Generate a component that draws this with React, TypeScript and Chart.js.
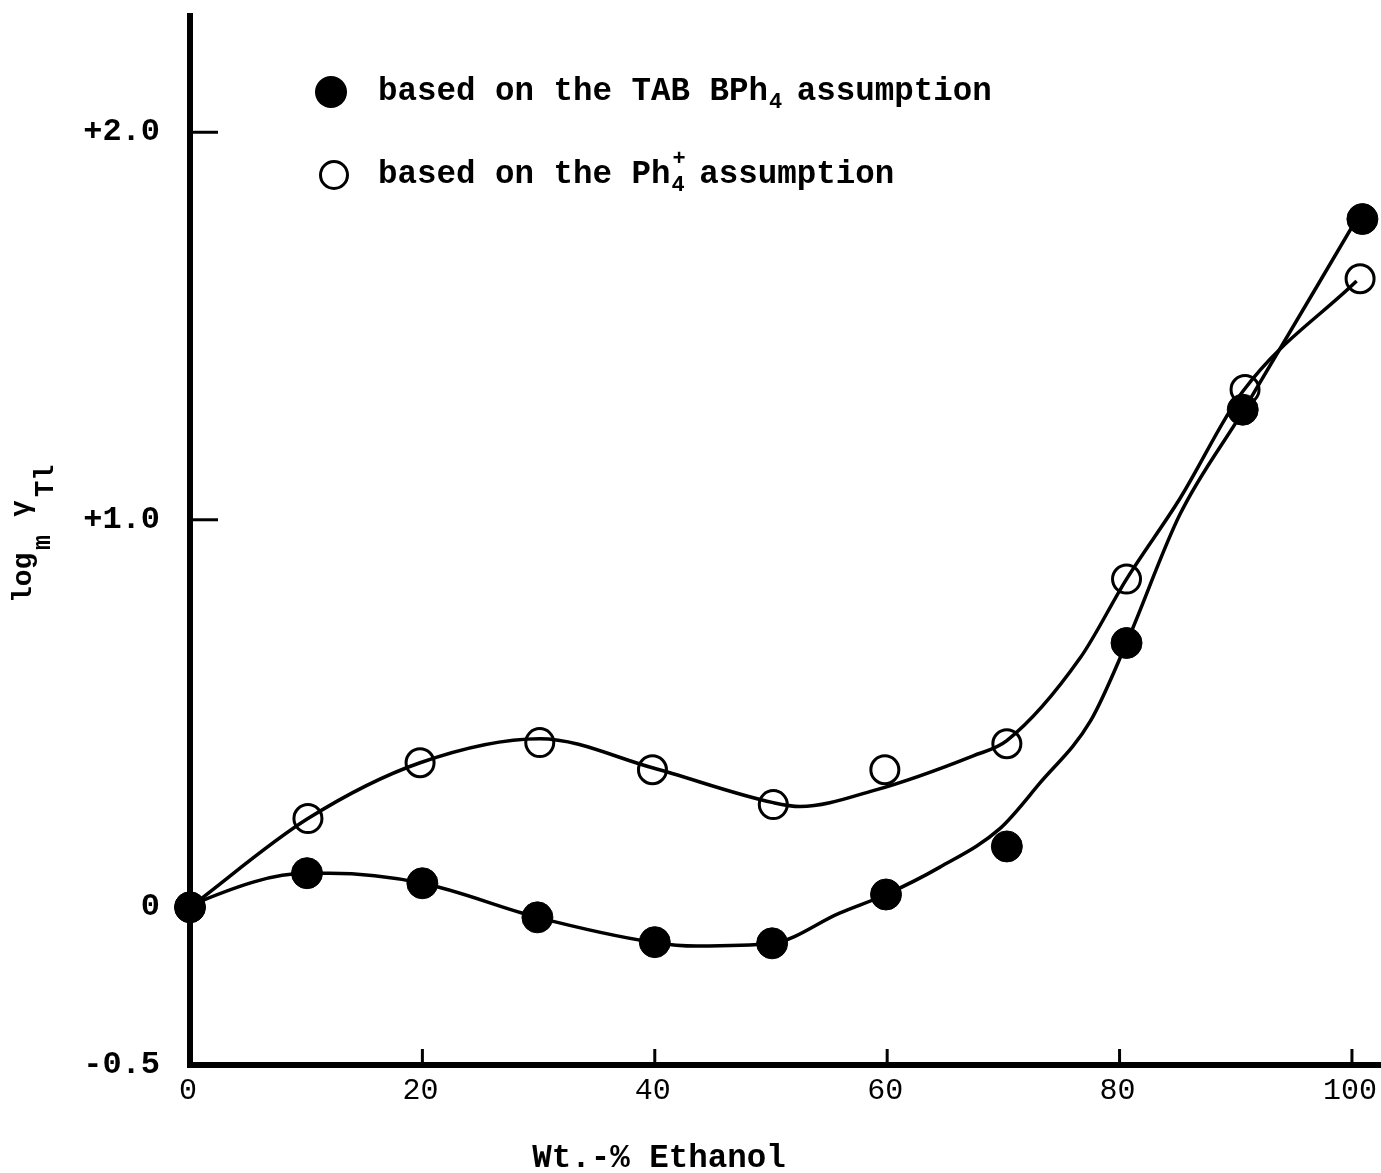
import React, { useEffect, useRef } from "react";
import { Chart, registerables } from "chart.js";

Chart.register(...registerables);

// ---- data ----
const ETHANOL_TAB = [0, 10.07, 20.0, 29.9, 40.0, 50.1, 59.9, 70.3, 80.6, 90.6, 100.9];
const LOG_GAMMA_TAB = [0, 0.088, 0.062, -0.026, -0.09, -0.093, 0.033, 0.157, 0.682, 1.284, 1.776];

const ETHANOL_PH = [0, 10.15, 19.8, 30.1, 39.8, 50.2, 59.8, 70.3, 80.6, 90.8, 100.7];
const LOG_GAMMA_PH = [0, 0.229, 0.373, 0.425, 0.355, 0.265, 0.355, 0.422, 0.847, 1.336, 1.622];

// smooth curves drawn through the points
const CURVE_TAB_X = [0, 1.1, 10.07, 12.0, 20.0, 29.9, 39.8, 43.6, 50.1, 55.9, 59.9, 64.5, 69.7, 73.1, 77.5, 80.6, 85.2, 90.6, 100.4];
const CURVE_TAB_Y = [0, 0.018, 0.0875, 0.0875, 0.062, -0.026, -0.09, -0.1, -0.093, -0.015, 0.033, 0.103, 0.203, 0.319, 0.481, 0.682, 1.014, 1.279, 1.776];

const CURVE_PH_X = [0, 10.15, 19.8, 30.1, 39.8, 50.2, 52.5, 58.8, 67.4, 70.3, 76.6, 80.6, 85.2, 90.6, 100.4];
const CURVE_PH_Y = [0, 0.229, 0.373, 0.435, 0.36, 0.27, 0.26, 0.301, 0.391, 0.43, 0.643, 0.847, 1.055, 1.331, 1.616];

const X_TICK_VALUES = [0, 20, 40, 60, 80, 100];
const X_INNER_TICKS = [20, 40, 60, 80, 100];
const Y_TICK_VALUES = [-0.407, 0, 1, 2];
const Y_TICK_LABELS = ["-0.5", "0", "+1.0", "+2.0"];
const Y_INNER_TICKS = [1, 2];

const X_MIN = 0;
const X_MAX = 102.5;
const Y_MIN = -0.407;
const Y_MAX = 2.3;

const LEGEND_TAB = "based on the TAB BPh";
const LEGEND_PH = "based on the Ph";
const LEGEND_TAIL = " assumption";
const X_TITLE = "Wt.-% Ethanol";

const FONT = '"Liberation Mono", "Courier New", monospace';
const INK = "#000";

const pairs = (xs: number[], ys: number[]) => xs.map((x, i) => ({ x, y: ys[i] }));

const decorPlugin = {
  id: "decor",
  afterDraw(chart: any) {
    const { ctx, chartArea } = chart;
    const xs = chart.scales.x;
    const ys = chart.scales.y;
    ctx.save();
    ctx.strokeStyle = INK;
    ctx.fillStyle = INK;
    ctx.lineWidth = 3;
    // inward ticks
    Y_INNER_TICKS.forEach((v) => {
      const py = ys.getPixelForValue(v);
      ctx.beginPath();
      ctx.moveTo(chartArea.left, py);
      ctx.lineTo(chartArea.left + 28, py);
      ctx.stroke();
    });
    X_INNER_TICKS.forEach((v) => {
      const px = xs.getPixelForValue(v);
      ctx.beginPath();
      ctx.moveTo(px, chartArea.bottom);
      ctx.lineTo(px, chartArea.bottom - 16);
      ctx.stroke();
    });

    // x tick labels
    ctx.font = `30px ${FONT}`;
    ctx.textAlign = "center";
    ctx.textBaseline = "middle";
    X_TICK_VALUES.forEach((v) => {
      ctx.fillText(String(v), xs.getPixelForValue(v) - 2, chartArea.bottom + 26);
    });

    // x title
    ctx.font = `bold 32.5px ${FONT}`;
    ctx.fillText(X_TITLE, chartArea.left + 469, chartArea.bottom + 94);

    // y title: log_m γ_Tl rotated
    ctx.save();
    ctx.translate(chartArea.left - 159, chartArea.top + 587);
    ctx.rotate(-Math.PI / 2);
    ctx.textAlign = "left";
    ctx.textBaseline = "alphabetic";
    ctx.font = `bold 28px ${FONT}`;
    ctx.fillText("log", 0, 0);
    ctx.font = `bold 25px ${FONT}`;
    ctx.fillText("m", 53, 19);
    ctx.font = `bold 28px ${FONT}`;
    ctx.fillText("\u03B3", 86, -2);
    ctx.font = `bold 27px ${FONT}`;
    ctx.fillText("Tl", 106, 22);
    ctx.restore();

    // legend
    ctx.textAlign = "left";
    ctx.textBaseline = "alphabetic";
    const lx = chartArea.left + 188;
    // row 1: filled
    ctx.beginPath();
    ctx.arc(chartArea.left + 141, chartArea.top + 76, 16, 0, Math.PI * 2);
    ctx.fill();
    ctx.font = `bold 32.5px ${FONT}`;
    const y1 = chartArea.top + 84;
    ctx.fillText(LEGEND_TAB, lx, y1);
    let w = ctx.measureText(LEGEND_TAB).width;
    ctx.font = `bold 22px ${FONT}`;
    ctx.fillText("4", lx + w + 1, y1 + 8);
    const sw = ctx.measureText("4").width;
    ctx.font = `bold 32.5px ${FONT}`;
    ctx.fillText(LEGEND_TAIL, lx + w + sw - 4, y1);

    // row 2: open
    ctx.lineWidth = 3;
    ctx.beginPath();
    ctx.arc(chartArea.left + 144, chartArea.top + 159, 13.5, 0, Math.PI * 2);
    ctx.stroke();
    const y2 = chartArea.top + 167;
    ctx.fillText(LEGEND_PH, lx, y2);
    w = ctx.measureText(LEGEND_PH).width;
    ctx.font = `bold 22px ${FONT}`;
    ctx.fillText("4", lx + w + 1, y2 + 8);
    ctx.fillText("+", lx + w + 2, y2 - 18);
    ctx.font = `bold 32.5px ${FONT}`;
    ctx.fillText(LEGEND_TAIL, lx + w + sw - 4, y2);

    ctx.restore();
  },
};

export default function App() {
  const canvasRef = useRef<HTMLCanvasElement | null>(null);

  useEffect(() => {
    if (!canvasRef.current) return;
    const chart = new Chart(canvasRef.current, {
      type: "line",
      data: {
        datasets: [
          {
            label: "curve TAB BPh4",
            data: pairs(CURVE_TAB_X, CURVE_TAB_Y),
            borderColor: INK,
            borderWidth: 3.5,
            pointRadius: 0,
            cubicInterpolationMode: "monotone",
            fill: false,
            clip: false,
          },
          {
            label: "curve Ph4+",
            data: pairs(CURVE_PH_X, CURVE_PH_Y),
            borderColor: INK,
            borderWidth: 3.5,
            pointRadius: 0,
            cubicInterpolationMode: "monotone",
            fill: false,
            clip: false,
          },
          {
            label: "based on the TAB BPh4 assumption",
            data: pairs(ETHANOL_TAB, LOG_GAMMA_TAB),
            showLine: false,
            pointRadius: 15.5,
            pointBackgroundColor: INK,
            pointBorderColor: INK,
            pointBorderWidth: 1,
            clip: false,
          },
          {
            label: "based on the Ph4+ assumption",
            data: pairs(ETHANOL_PH, LOG_GAMMA_PH),
            showLine: false,
            pointRadius: 14,
            pointBackgroundColor: "rgba(0,0,0,0)",
            pointBorderColor: INK,
            pointBorderWidth: 3,
            clip: false,
          },
        ],
      },
      options: {
        animation: false,
        responsive: false,
        devicePixelRatio: 1,
        layout: { autoPadding: false, padding: { top: 16, left: 0, right: 0, bottom: 0 } },
        plugins: {
          legend: { display: false },
          tooltip: { enabled: false },
        },
        scales: {
          x: {
            type: "linear",
            min: X_MIN,
            max: X_MAX,
            grid: { display: false, drawTicks: false },
            border: { display: true, color: INK, width: 6 },
            afterBuildTicks: (s: any) => {
              s.ticks = X_TICK_VALUES.map((v) => ({ value: v }));
            },
            afterFit: (s: any) => {
              s.height = 108;
              s.paddingLeft = 0;
              s.paddingRight = 0;
            },
            ticks: { display: false },
          },
          y: {
            type: "linear",
            min: Y_MIN,
            max: Y_MAX,
            grid: { display: false, drawTicks: false },
            border: { display: true, color: INK, width: 6 },
            afterBuildTicks: (s: any) => {
              s.ticks = Y_TICK_VALUES.map((v) => ({ value: v }));
            },
            afterFit: (s: any) => {
              s.width = 190;
              s.paddingTop = 0;
              s.paddingBottom = 0;
            },
            ticks: {
              color: INK,
              padding: 30,
              autoSkip: false,
              font: { family: FONT, size: 32, weight: "bold" },
              callback: (v: any) => {
                const i = Y_TICK_VALUES.indexOf(v);
                return i >= 0 ? Y_TICK_LABELS[i] : "";
              },
            },
          },
        },
      },
      plugins: [decorPlugin],
    } as any);
    return () => chart.destroy();
  }, []);

  return (
    <div style={{ position: "fixed", left: 0, top: 0, width: 1381, height: 1173, background: "#fff" }}>
      <canvas ref={canvasRef} width={1381} height={1173} style={{ display: "block" }} />
    </div>
  );
}
